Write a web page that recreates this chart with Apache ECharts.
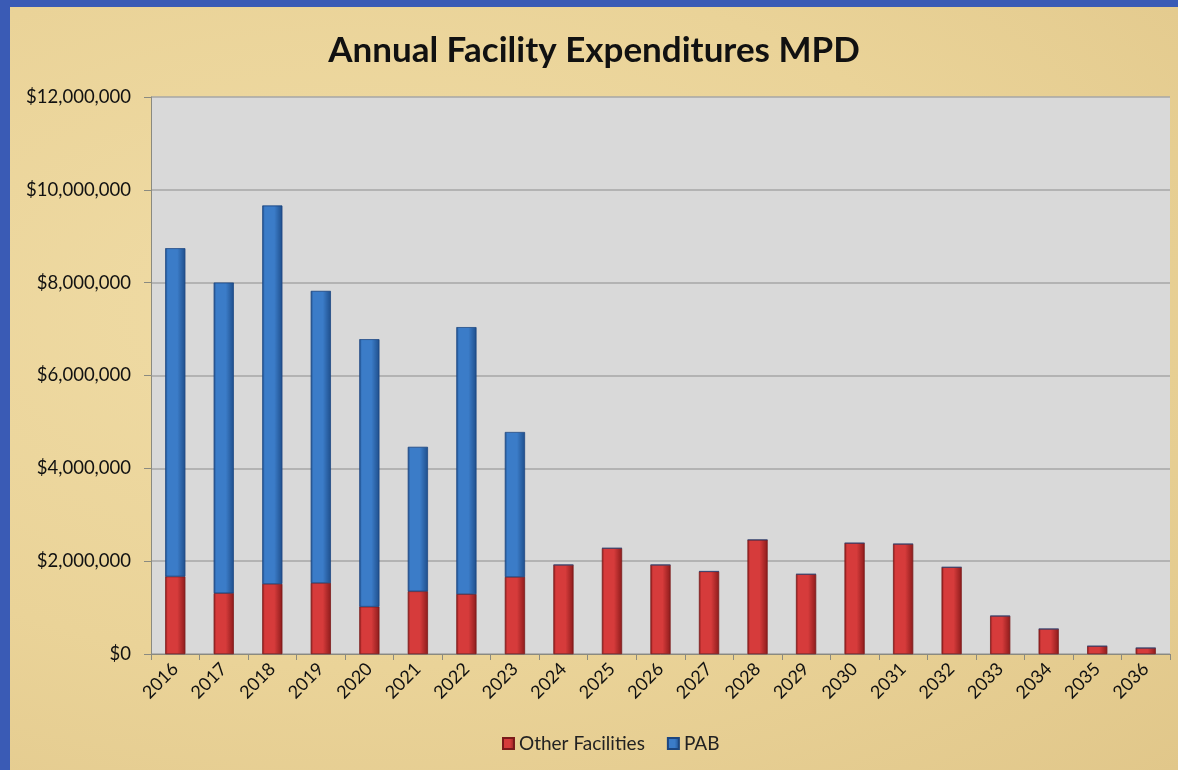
<!DOCTYPE html>
<html>
<head>
<meta charset="utf-8">
<script src="https://cdn.jsdelivr.net/npm/echarts@6/dist/echarts.min.js"></script>
<style>
  html, body { margin: 0; padding: 0; background: #3a5bb5; }
  #wrap {
    position: absolute; left: 10px; top: 7px; width: 1168px; height: 763px;
    background: radial-gradient(ellipse at 30% 40%, #f0dca6 0%, #ead398 55%, #e1c78a 100%);
  }
  #chart { width: 1168px; height: 763px; }
</style>
</head>
<body>
<div id="wrap"><div id="chart"></div></div>
<script>
var years = ['2016','2017','2018','2019','2020','2021','2022','2023','2024','2025','2026',
             '2027','2028','2029','2030','2031','2032','2033','2034','2035','2036'];
var otherFacilities = [1670000, 1310000, 1510000, 1530000, 1020000, 1350000, 1290000, 1660000,
                       1920000, 2280000, 1920000, 1780000, 2460000, 1720000, 2390000, 2370000,
                       1870000, 820000, 540000, 170000, 130000];
var pab = [7070000, 6690000, 8150000, 6290000, 5760000, 3110000, 5750000, 3120000,
           0, 0, 0, 0, 0, 0, 0, 0, 0, 0, 0, 0, 0];
var yTicks = [0, 2000000, 4000000, 6000000, 8000000, 10000000, 12000000];

var fontName = 'Lato, "Open Sans", sans-serif';

function barGrad(dark, light) {
    return new echarts.graphic.LinearGradient(0, 0, 1, 0, [
        { offset: 0, color: dark },
        { offset: 0.12, color: light },
        { offset: 0.6, color: light },
        { offset: 1, color: dark }
    ]);
}

var myEcharts = echarts.init(document.getElementById('chart'));
var option = {
    backgroundColor: 'transparent',
    title: {
        text: 'Annual Facility Expenditures MPD',
        left: 'center',
        top: 21,
        textStyle: { fontFamily: fontName, fontSize: 35, fontWeight: 'bold', color: '#111' }
    },
    legend: {
        data: ['Other Facilities', 'PAB'],
        bottom: 12,
        left: 487,
        itemWidth: 11,
        itemHeight: 11,
        itemGap: 22,
        icon: 'rect',
        textStyle: { fontFamily: fontName, fontSize: 19, color: '#222' }
    },
    grid: { left: 141, right: 8, top: 90, bottom: 116 },
    xAxis: {
        type: 'category',
        data: years,
        axisLine: { lineStyle: { color: '#8a8a80' } },
        axisTick: { show: true, alignWithLabel: false, length: 6, lineStyle: { color: '#8a8a80' } },
        axisLabel: { rotate: 45, fontFamily: fontName, fontSize: 18, color: '#111', margin: 12 }
    },
    yAxis: {
        type: 'value',
        min: yTicks[0],
        max: yTicks[yTicks.length - 1],
        interval: yTicks[1] - yTicks[0],
        axisLine: { show: true, lineStyle: { color: '#8a8a80' } },
        axisTick: { show: true, length: 7, lineStyle: { color: '#8a8a80' } },
        splitLine: { lineStyle: { color: '#a6a6a6', width: 1.5 } },
        splitArea: { show: true, areaStyle: { color: ['#d9d9d9', '#d9d9d9'] } },
        axisLabel: {
            fontFamily: fontName, fontSize: 18.5, color: '#111', margin: 20,
            formatter: function (v) { return '$' + v.toLocaleString('en-US'); }
        }
    },
    series: [
        {
            name: 'Other Facilities',
            type: 'bar',
            stack: 'total',
            barWidth: '41%',
            itemStyle: { color: barGrad('#8e1c1c', '#d63b3b'), borderColor: '#7a1a1a', borderWidth: 0.5 },
            data: otherFacilities
        },
        {
            name: 'PAB',
            type: 'bar',
            stack: 'total',
            barWidth: '41%',
            itemStyle: { color: barGrad('#1f4f8c', '#3b7cc8'), borderColor: '#1c4680', borderWidth: 0.5 },
            data: pab
        }
    ]
};
myEcharts.setOption(option);
</script>
</body>
</html>
